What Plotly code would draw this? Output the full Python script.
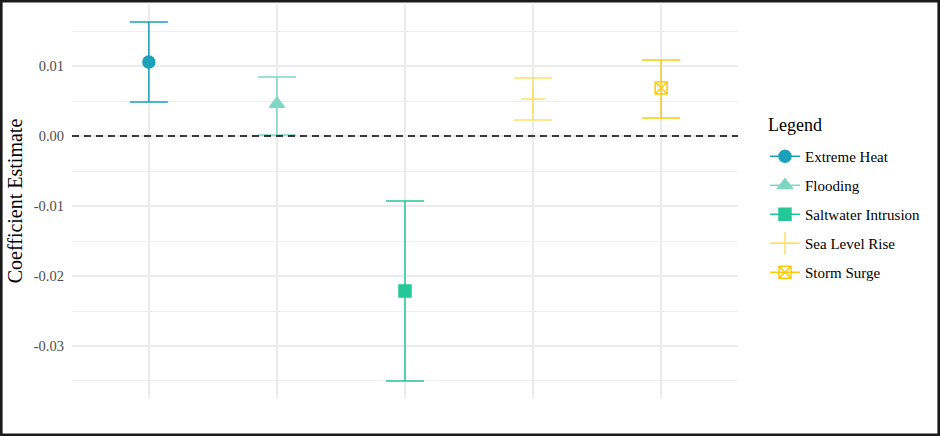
import plotly.graph_objects as go

categories = ["Extreme Heat", "Flooding", "Saltwater Intrusion", "Sea Level Rise", "Storm Surge"]
estimates = [0.01057, 0.00457, -0.02214, 0.00529, 0.00686]
upper = [0.01629, 0.00843, -0.00929, 0.00829, 0.01086]
lower = [0.00486, 0.00014, -0.03500, 0.00229, 0.00257]
colors = ["#1BA1BA", "#7ED7C5", "#24C898", "#FFE066", "#FFC908"]
symbols = ["circle", "triangle-up", "square", "cross-thin", "square-x-open"]
sizes = [12, 13, 12, 17, 12]

ytick_vals = [-0.03, -0.02, -0.01, 0.0, 0.01]
ytick_text = ["-0.03", "-0.02", "-0.01", "0.00", "0.01"]

W, H = 940, 436
ML, MR, MT, MB = 72, 202, 4, 38
PW, PH = W - ML - MR, H - MT - MB

FONT = "Liberation Serif, Times New Roman, serif"

fig = go.Figure()
for i, cat in enumerate(categories):
    fig.add_trace(go.Scatter(
        x=[cat], y=[estimates[i]],
        mode="lines+markers",
        name=cat,
        legendgroup=cat,
        line=dict(color=colors[i], width=1.5),
        marker=dict(color=colors[i], symbol=symbols[i], size=sizes[i],
                    line=dict(color=colors[i], width=1.5)),
        error_y=dict(type="data", symmetric=False,
                     array=[upper[i] - estimates[i]],
                     arrayminus=[estimates[i] - lower[i]],
                     color=colors[i], thickness=1.5, width=19),
    ))

fig.add_shape(type="line", xref="paper", yref="y", x0=0, x1=1, y0=0, y1=0,
              line=dict(color="black", width=1.3, dash="7px,5px"))


def px_x(p):
    return (p - ML) / PW


def px_y(p):
    return (H - MB - p) / PH


# outer border
fig.add_shape(type="rect", xref="paper", yref="paper",
              x0=px_x(1.3), x1=px_x(W - 1.3), y0=px_y(H - 1.3), y1=px_y(1.3),
              line=dict(color="#1a1a1a", width=2.6), fillcolor="rgba(0,0,0,0)", layer="above")

# legend title
fig.add_annotation(text="Legend", xref="paper", yref="paper", x=px_x(766), y=px_y(125),
                   xanchor="left", yanchor="middle", showarrow=False,
                   font=dict(size=18, family=FONT, color="black"))

fig.update_layout(
    width=W, height=H,
    margin=dict(l=ML, r=MR, t=MT, b=MB),
    paper_bgcolor="white", plot_bgcolor="white",
    font=dict(family=FONT, color="black"),
    xaxis=dict(type="category", categoryorder="array", categoryarray=categories,
               range=[-0.6, 4.6], showticklabels=False, ticks="",
               showgrid=True, gridcolor="#EBEBEB", gridwidth=1.5,
               zeroline=False, showline=False),
    yaxis=dict(range=[-0.03743, 0.01886], tickvals=ytick_vals, ticktext=ytick_text,
               tickfont=dict(size=14.5, color="#4D4D4D", family=FONT),
               ticks="", ticklen=0, ticklabelstandoff=7,
               showgrid=True, gridcolor="#EBEBEB", gridwidth=1.5,
               minor=dict(dtick=0.005, tick0=0, showgrid=True, gridcolor="#EFEFEF", gridwidth=1),
               zeroline=False, showline=False,
               title=dict(text="Coefficient Estimate", font=dict(size=20, family=FONT, color="black"),
                          standoff=5)),
    legend=dict(x=px_x(765), xanchor="left", y=px_y(140), yanchor="top",
                font=dict(size=15, family=FONT, color="black"),
                tracegroupgap=6.5, bgcolor="rgba(0,0,0,0)"),
    showlegend=True,
)

fig.write_html("out.html")
